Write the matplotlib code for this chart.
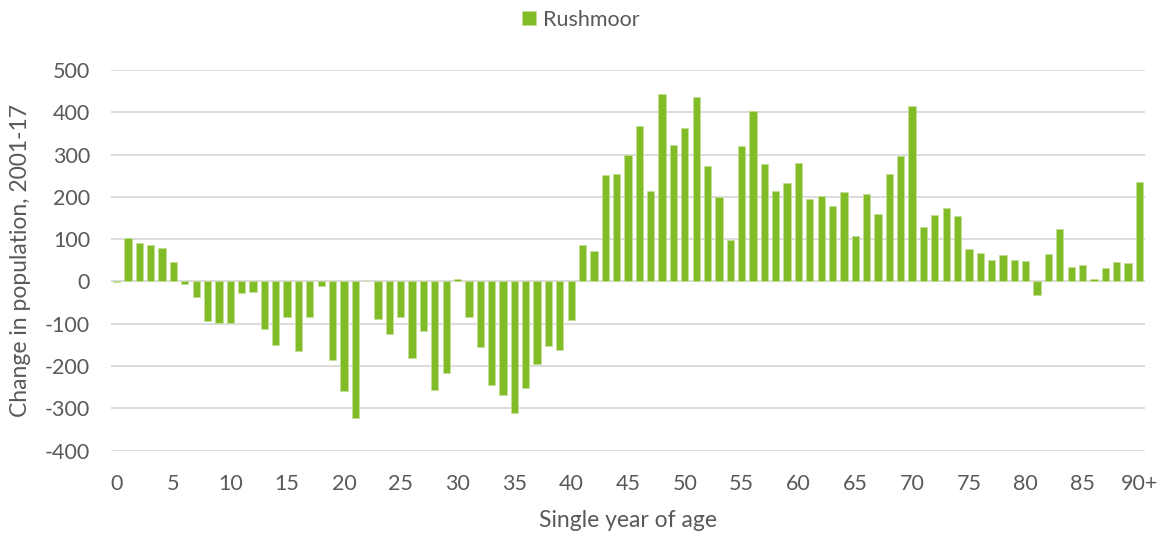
import numpy as np
import matplotlib.pyplot as plt

plt.rcParams["font.family"] = ["Lato", "DejaVu Sans"]

# ---- data ------------------------------------------------------------------
ages = [str(a) for a in range(90)] + ["90+"]
change = [
    -2, 102, 91, 86, 80, 45, -5, -36, -94, -98,
    -98, -28, -24, -113, -150, -84, -165, -84, -10, -185,
    -259, -322, 0, -89, -123, -84, -182, -117, -257, -216,
    6, -83, -154, -244, -269, -312, -251, -194, -152, -161,
    -91, 87, 71, 251, 254, 300, 367, 214, 444, 322,
    364, 435, 273, 200, 99, 321, 403, 277, 214, 232,
    279, 195, 202, 179, 211, 108, 207, 159, 255, 296,
    414, 128, 158, 174, 154, 77, 68, 50, 62, 50,
    48, -31, 65, 125, 35, 39, 6, 33, 46, 43,
    235,
]
series_name = "Rushmoor"
yticks = list(range(-400, 501, 100))

GREEN = "#80bc25"
GRID = "#d9d9d9"
TXT = "#595959"

fig = plt.figure(figsize=(11.62, 5.38), dpi=100)
ax = fig.add_axes([0.0955, 0.1623, 0.8899, 0.7076])

x = np.arange(len(ages))
ax.bar(x, change, width=0.64, color=GREEN, edgecolor="#c2df95",
       linewidth=0.6, label=series_name, zorder=3)

ax.set_xlim(-0.5, len(ages) - 0.5)
ax.set_ylim(-400, 500)
ax.set_yticks(yticks)
ax.set_yticklabels([str(v) for v in yticks])
ax.set_xticks(x[::5])
ax.set_xticklabels([ages[i] for i in range(0, len(ages), 5)])
ax.grid(axis="y", color=GRID, linewidth=1.3, zorder=0)
ax.set_axisbelow(True)
for s in ax.spines.values():
    s.set_visible(False)
ax.tick_params(length=0, labelsize=15.5, colors=TXT)
ax.tick_params(axis="y", pad=15)
ax.tick_params(axis="x", pad=17)

ax.set_ylabel("Change in population, 2001-17", fontsize=16.5, color=TXT,
              labelpad=10)
ax.set_xlabel("Single year of age", fontsize=16.5, color=TXT, labelpad=11)

fig.legend(loc="upper center", bbox_to_anchor=(0.5, 1.018), frameon=False,
           fontsize=15.5, labelcolor=TXT, handlelength=0.65, handleheight=0.65,
           handletextpad=0.3)

fig.savefig("out.png", dpi=100)
